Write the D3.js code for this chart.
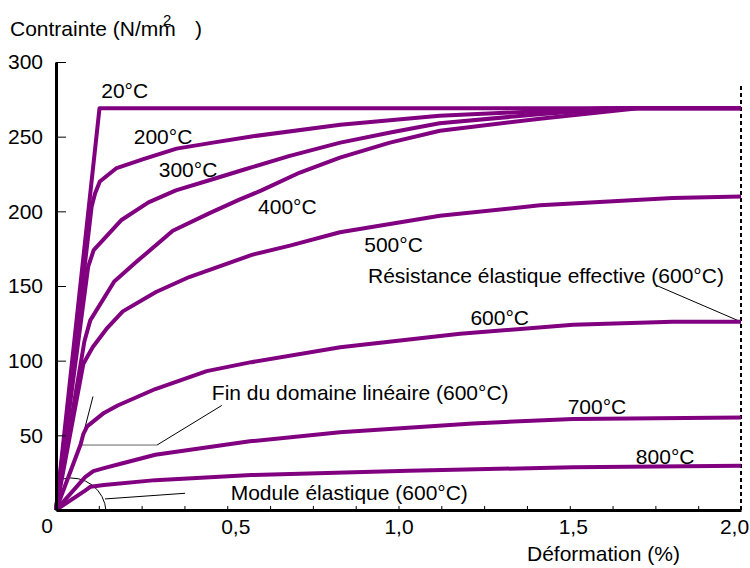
<!DOCTYPE html>
<html>
<head>
<meta charset="utf-8">
<script src="https://cdn.jsdelivr.net/npm/d3@7"></script>
<style>
  body { margin: 0; background: #fff; }
  text { font-family: "Liberation Sans", Arial, sans-serif; }
</style>
</head>
<body>
<script>
// strain (%) / stress (N/mm2)
var temps = ["20°C", "200°C", "300°C", "400°C", "500°C", "600°C", "700°C", "800°C"];

var c20 = [[0, 0], [0.127, 269], [2.0, 269]];
var c200 = [[0, 0], [0.104, 203], [0.114, 212], [0.128, 220], [0.177, 229], [0.255, 235],
            [0.352, 242], [0.458, 246], [0.566, 250], [0.83, 258], [1.12, 264], [1.41, 267],
            [1.6, 269], [2.0, 269]];
var c300 = [[0, 0], [0.094, 163], [0.11, 174], [0.19, 194], [0.27, 206], [0.35, 214],
            [0.45, 221], [0.55, 228], [0.68, 237], [0.83, 246], [0.98, 253], [1.12, 259],
            [1.41, 265], [1.65, 269], [2.0, 269]];
var c400 = [[0, 0], [0.083, 113], [0.1, 127], [0.17, 153], [0.234, 166], [0.341, 187],
            [0.45, 199], [0.537, 208], [0.6, 214], [0.712, 226], [0.829, 236], [0.975, 246],
            [1.121, 254], [1.413, 262], [1.7, 269], [2.0, 269]];
var c500 = [[0, 0], [0.08, 98], [0.107, 109], [0.15, 122], [0.195, 133], [0.292, 146],
            [0.389, 156], [0.574, 171], [0.683, 177], [0.829, 186], [1.121, 197], [1.413, 204],
            [1.8, 209], [2.0, 210]];
var c600 = [[0, 0], [0.072, 44], [0.08, 51], [0.091, 56], [0.14, 65], [0.18, 70], [0.29, 81],
            [0.44, 93], [0.57, 99], [0.83, 109], [1.18, 118], [1.51, 124], [1.8, 126], [2.0, 126]];
var c700 = [[0, 0], [0.085, 22], [0.109, 26], [0.14, 28], [0.189, 31], [0.29, 37], [0.566, 46],
            [0.829, 52], [1.217, 58], [1.51, 61], [2.0, 62]];
var c800 = [[0, 0], [0.085, 13], [0.101, 15.6], [0.14, 16.7], [0.29, 20], [0.57, 23.4],
            [1.03, 26.3], [1.51, 28.6], [2.0, 29.6]];
var curves = [c20, c200, c300, c400, c500, c600, c700, c800];

// label anchor for each curve (strain, stress), left/baseline
var labelPos = [[0.132, 276], [0.227, 245], [0.30, 223], [0.59, 198], [0.90, 173],
                [1.21, 124], [1.494, 64], [1.693, 31]];

var yTicks = [50, 100, 150, 200, 250, 300];
var xTicks = d3.range(0, 2.0001, 0.125);
var xLabels = [0.5, 1.0, 1.5, 2.0];
var xLabelShift = { "0.5": 8, "1": 0, "1.5": 3, "2": -7 };

var w = 750, h = 568;
var svg = d3.select("body").append("svg")
            .attr("width", w)
            .attr("height", h);

var x = d3.scaleLinear().domain([0, 2]).range([56, 741]);
var y = d3.scaleLinear().domain([0, 300]).range([510, 62]);
var fmt = function (d) { return d3.format(".1f")(d).replace(".", ","); };

// annotations drawn first so the curves sit on top
var ann = svg.append("g").attr("fill", "none").attr("stroke", "#000").attr("stroke-width", 1);

// end of the linear domain (600°C)
ann.append("line")
   .attr("x1", x(0.072)).attr("y1", y(44))
   .attr("x2", x(0.108)).attr("y2", y(76));
ann.append("line")
   .attr("stroke", "#666")
   .attr("x1", x(0.072)).attr("y1", y(43.5))
   .attr("x2", x(0.295)).attr("y2", y(43.5));
ann.append("line")
   .attr("x1", x(0.295)).attr("y1", y(43.5))
   .attr("x2", x(0.484)).attr("y2", y(70));

// elastic modulus arc + pointer
var p = d3.path();
p.arc(x(0.044), y(-2), 35, -1.8, -0.05);
ann.append("path").attr("d", p.toString());
ann.append("line")
   .attr("x1", x(0.143)).attr("y1", y(7.4))
   .attr("x2", x(0.377)).attr("y2", y(11.2));

// effective yield strength pointer
ann.append("line")
   .attr("x1", x(1.752)).attr("y1", y(150.5))
   .attr("x2", x(2.0)).attr("y2", y(126));

// dashed line at 2 %
svg.append("line")
   .attr("x1", x(2.0)).attr("x2", x(2.0))
   .attr("y1", y(284)).attr("y2", y(0))
   .attr("stroke", "#000")
   .attr("stroke-width", 2)
   .attr("stroke-dasharray", "4,3");

// curves
var line = d3.line().x(d => x(d[0])).y(d => y(d[1]));
svg.selectAll(".curve")
   .data(curves)
   .enter()
   .append("path")
   .attr("class", "curve")
   .attr("d", line)
   .attr("fill", "none")
   .attr("stroke", "#800080")
   .attr("stroke-width", 4)
   .attr("stroke-linejoin", "round");

// axes
var yAxis = svg.append("g")
   .attr("transform", `translate(${x(0)},0)`)
   .call(d3.axisLeft(y).tickValues(yTicks).tickSizeInner(-10).tickSizeOuter(0).tickPadding(13));
var xAxis = svg.append("g")
   .attr("transform", `translate(0,${y(0)})`)
   .call(d3.axisBottom(x).tickValues(xTicks).tickSizeInner(-4).tickSizeOuter(0).tickPadding(9)
          .tickFormat(d => xLabels.indexOf(d) >= 0 ? fmt(d) : ""));

xAxis.selectAll(".tick text").attr("dx", d => xLabelShift[String(d)] || 0);

[yAxis, xAxis].forEach(function (a) {
  a.select(".domain").attr("stroke", "#000").attr("stroke-width", 3);
  a.selectAll(".tick line").attr("stroke", "#000").attr("stroke-width", 1);
  a.selectAll("text").attr("font-size", "21px").attr("fill", "#000")
   .attr("font-family", '"Liberation Sans", Arial, sans-serif');
});

svg.append("text")
   .attr("x", x(0) - 9).attr("y", 533)
   .attr("text-anchor", "middle")
   .attr("font-size", "21px")
   .text("0");

// curve labels
svg.selectAll(".tlabel")
   .data(temps)
   .enter()
   .append("text")
   .attr("class", "tlabel")
   .attr("x", (d, i) => x(labelPos[i][0]))
   .attr("y", (d, i) => y(labelPos[i][1]))
   .attr("font-size", "21px")
   .text(d => d);

// annotation texts
svg.append("text").attr("x", x(0.455)).attr("y", y(73.5)).attr("font-size", "21px")
   .text("Fin du domaine linéaire (600°C)");
svg.append("text").attr("x", x(0.51)).attr("y", y(7)).attr("font-size", "21px")
   .text("Module élastique (600°C)");
svg.append("text").attr("x", x(0.911)).attr("y", y(152)).attr("font-size", "21px")
   .text("Résistance élastique effective (600°C)");

// axis titles
svg.append("text").attr("x", 10).attr("y", 36).attr("font-size", "21px").text("Contrainte (N/mm");
svg.append("text").attr("x", 163).attr("y", 25).attr("font-size", "15px").text("2");
svg.append("text").attr("x", 195).attr("y", 36).attr("font-size", "21px").text(")");
svg.append("text").attr("x", 527).attr("y", 561).attr("font-size", "21px").text("Déformation (%)");
</script>
</body>
</html>
